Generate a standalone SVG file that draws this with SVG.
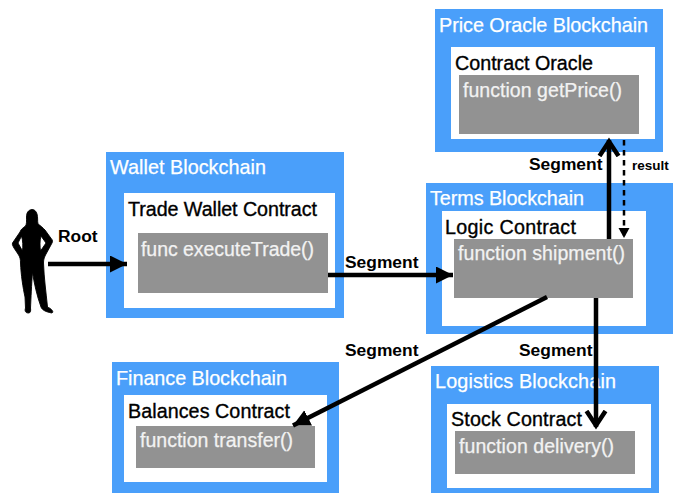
<svg xmlns="http://www.w3.org/2000/svg" width="679" height="493" viewBox="0 0 679 493">
<style>
text{font-family:"Liberation Sans",Arial,sans-serif;}
.chain{fill:#4a9ffa;}
.box{fill:#fff;}
.fn{fill:#929292;}
.t1{font-size:19.8px;fill:#fff;stroke:#fff;stroke-width:.25px;}
.t2{font-size:19.7px;fill:#000;stroke:#000;stroke-width:.35px;}
.t3{font-size:19.5px;fill:#f2f2f2;stroke:#f2f2f2;stroke-width:.25px;}
.lb{font-size:17.4px;font-weight:bold;fill:#000;}
.ln{stroke:#000;fill:none;stroke-width:4.5;}
</style>
<defs>
<marker id="solid" markerUnits="userSpaceOnUse" markerWidth="20" markerHeight="20" refX="17" refY="8.5" orient="auto"><path d="M0 0L17 8.5L0 17Z" fill="#000"/></marker>
<marker id="open" markerUnits="userSpaceOnUse" markerWidth="22" markerHeight="24" refX="17" refY="12" orient="auto"><path d="M1 2.5L15.5 12L1 21.5" fill="none" stroke="#000" stroke-width="4.5"/></marker>
<marker id="small" markerUnits="userSpaceOnUse" markerWidth="12" markerHeight="12" refX="10" refY="5.5" orient="auto"><path d="M0 0L10 5.5L0 11Z" fill="#000"/></marker>
</defs>
<g id="person"><path fill-rule="evenodd" stroke="#000" stroke-width=".9" d="M32 209.500C28 210 26.500 213 26.500 217C26.500 221 26.800 224 25.500 226C23 228 21 229 20 232L12.500 243C12 245 13 246 14 248L18 254C20 257 20.500 259 20.500 263C21 275 23 288 25 297L25.500 308C24.500 311 25.500 313 28.500 313C30.500 313 31 311 30.500 308C31 298 31.500 285 32.500 272C34 283 37 296 41 307C42 310 46 312 52 313C54 312 52 309 47.500 307C46 292 44 278 43.500 263C43.500 260 44 258 45.500 255L52 243C53 241 52.500 240 51.500 239L45 230C43 228 41 226 38 224C37.300 221 38 217 37 214C36 211 34.500 209.500 32 209.500ZM21.500 236L18 243L22.500 251C23 246 23 241 21.500 236ZM41 236C39.500 241 40 247 40.500 251L46 243Z"/></g>
<g id="wallet"><rect class="chain" x="106" y="152" width="238" height="166"/><rect class="box" x="124" y="193" width="211" height="115"/><rect class="fn" x="138" y="233" width="190" height="60"/><text class="t1" x="110" y="174" textLength="156">Wallet Blockchain</text><text class="t2" x="128" y="216" textLength="189">Trade Wallet Contract</text><text class="t3" x="141" y="256" textLength="173">func executeTrade()</text></g>
<g id="oracle"><rect class="chain" x="435" y="9" width="228" height="143"/><rect class="box" x="451" y="47" width="204" height="92"/><rect class="fn" x="459" y="75" width="180" height="59"/><text class="t1" x="439" y="32" textLength="209">Price Oracle Blockchain</text><text class="t2" x="455" y="70" textLength="138">Contract Oracle</text><text class="t3" x="463" y="97" textLength="159">function getPrice()</text></g>
<g id="terms"><rect class="chain" x="426" y="183" width="247" height="151"/><rect class="box" x="442" y="211" width="204" height="115"/><rect class="fn" x="454" y="239" width="179" height="59"/><text class="t1" x="430" y="205" textLength="154">Terms Blockchain</text><text class="t2" x="445" y="234" textLength="131">Logic Contract</text><text class="t3" x="458" y="260" textLength="167">function shipment()</text></g>
<g id="finance"><rect class="chain" x="112" y="362" width="227" height="131"/><rect class="box" x="124" y="395" width="203" height="87"/><rect class="fn" x="136" y="426" width="179" height="42"/><text class="t1" x="116" y="385" textLength="171">Finance Blockchain</text><text class="t2" x="128" y="418" textLength="162">Balances Contract</text><text class="t3" x="140" y="447" textLength="153">function transfer()</text></g>
<g id="logistics"><rect class="chain" x="431" y="366" width="228" height="127"/><rect class="box" x="447" y="404" width="204" height="84"/><rect class="fn" x="455" y="431" width="180" height="43"/><text class="t1" x="435" y="388" textLength="181">Logistics Blockchain</text><text class="t2" x="451" y="426" textLength="131">Stock Contract</text><text class="t3" x="459" y="453" textLength="155">function delivery()</text></g>
<g id="connectors">
<line class="ln" x1="48" y1="264" x2="127" y2="264" marker-end="url(#solid)"/>
<line class="ln" x1="328" y1="275" x2="453" y2="275" marker-end="url(#solid)"/>
<line class="ln" x1="609" y1="239" x2="609" y2="140" marker-end="url(#open)"/>
<line x1="624" y1="140" x2="624" y2="238" stroke="#000" stroke-width="2.500" stroke-dasharray="5.500 4.500" fill="none" marker-end="url(#small)"/>
<line class="ln" x1="547" y1="297" x2="293" y2="425.500" marker-end="url(#solid)"/>
<line class="ln" x1="596" y1="298" x2="596" y2="427" marker-end="url(#open)"/>
</g>
<g id="labels">
<text class="lb" x="58" y="242">Root</text>
<text class="lb" x="345" y="268">Segment</text>
<text class="lb" x="529" y="170">Segment</text>
<text class="lb" x="345" y="356">Segment</text>
<text class="lb" x="519" y="356">Segment</text>
<text x="632" y="170" font-size="13.500" font-weight="bold">result</text>
</g>
</svg>
